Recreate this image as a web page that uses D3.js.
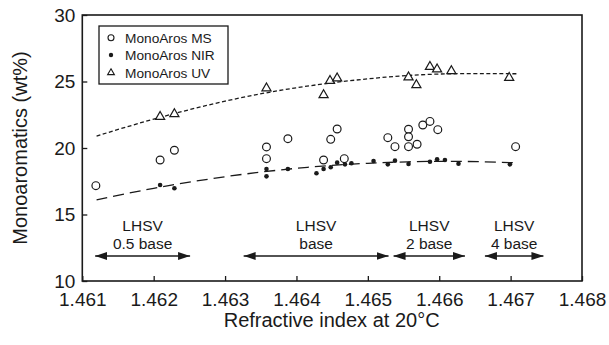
<!DOCTYPE html>
<html>
<head>
<meta charset="utf-8">
<script src="https://cdn.jsdelivr.net/npm/d3@7/dist/d3.min.js"></script>
<style>
  html, body { margin: 0; padding: 0; background: #fff; }
  svg { display: block; font-family: "Liberation Sans", Arial, Helvetica, sans-serif; }
</style>
</head>
<body>
<svg id="chart" width="609" height="345"></svg>
<script>
// Monoaromatics measured three ways against refractive index
const msPoints = [
  [1.46119, 17.17], [1.46209, 19.10], [1.46229, 19.83], [1.46358, 20.08], [1.46358, 19.20],
  [1.46388, 20.70], [1.46438, 19.10], [1.46448, 20.65], [1.46457, 21.43], [1.46467, 19.20],
  [1.46528, 20.78], [1.46538, 20.10], [1.46557, 21.41], [1.46557, 20.85], [1.46557, 20.10],
  [1.46569, 20.28], [1.46577, 21.73], [1.46587, 22.00], [1.46598, 21.38], [1.46707, 20.10]
];
const nirPoints = [
  [1.46209, 17.22], [1.46229, 16.97], [1.46358, 18.42], [1.46358, 17.87], [1.46388, 18.42],
  [1.46428, 18.10], [1.46438, 18.42], [1.46448, 18.55], [1.46457, 18.90], [1.46468, 18.77],
  [1.46477, 18.85], [1.46508, 19.02], [1.46528, 18.77], [1.46538, 19.05], [1.46557, 18.80],
  [1.46587, 18.97], [1.46597, 19.15], [1.46608, 19.10], [1.46627, 18.82], [1.46699, 18.77]
];
const uvPoints = [
  [1.46209, 22.35], [1.46229, 22.56], [1.46358, 24.49], [1.46438, 23.98], [1.46447, 25.06],
  [1.46457, 25.24], [1.46557, 25.32], [1.46568, 24.74], [1.46587, 26.11], [1.46597, 25.92],
  [1.46617, 25.79], [1.46698, 25.28]
];
// Trend curves, sampled along their length
const uvTrend = [
  [1.4612, 20.90], [1.4620, 22.17], [1.4630, 23.52], [1.4640, 24.53],
  [1.4650, 25.20], [1.4660, 25.56], [1.4671, 25.58]
];
const nirTrend = [
  [1.4612, 16.10], [1.4620, 16.97], [1.4630, 17.84], [1.4640, 18.47],
  [1.4650, 18.85], [1.4661, 19.00], [1.4671, 18.88]
];
// LHSV ranges shown as double-headed arrows
const lhsvLabels = [["LHSV", "0.5 base"], ["LHSV", "base"], ["LHSV", "2 base"], ["LHSV", "4 base"]];
const lhsvRanges = [[1.46118, 1.46251], [1.46326, 1.46529], [1.46536, 1.46636], [1.46664, 1.46746]];

const xTicks = [1.461, 1.462, 1.463, 1.464, 1.465, 1.466, 1.467, 1.468];
const yTicks = [10, 15, 20, 25, 30];
const legendLabels = ["MonoAros MS", "MonoAros NIR", "MonoAros UV"];

const svg = d3.select("#chart");
const ink = "#1a1a1a";
const plotL = 82.3, plotR = 582, plotT = 15, plotB = 281;

const x = d3.scaleLinear().domain([1.461, 1.468]).range([plotL, plotR]);
const y = d3.scaleLinear().domain([10, 30]).range([plotB, plotT]);

// frame
svg.append("rect")
  .attr("x", plotL).attr("y", plotT)
  .attr("width", plotR - plotL).attr("height", plotB - plotT)
  .attr("fill", "none").attr("stroke", ink).attr("stroke-width", 1.6);

// axes with inward ticks
const xAxis = svg.append("g").attr("transform", `translate(0,${plotB})`)
  .call(d3.axisBottom(x).tickValues(xTicks).tickSize(-5).tickSizeOuter(0).tickPadding(12)
    .tickFormat(d3.format(".3f")));
const yAxis = svg.append("g").attr("transform", `translate(${plotL},0)`)
  .call(d3.axisLeft(y).tickValues(yTicks).tickSize(-5).tickSizeOuter(0).tickPadding(7));
[xAxis, yAxis].forEach(g => {
  g.select(".domain").remove();
  g.selectAll(".tick line").attr("stroke", ink).attr("stroke-width", 1.3);
  g.selectAll(".tick text").attr("fill", ink).attr("font-size", 19)
    .attr("font-family", "Liberation Sans, Arial, sans-serif");
});
xAxis.selectAll(".tick text").attr("dy", "0.71em").attr("y", 12);

// axis titles
svg.append("text").attr("x", (plotL + plotR) / 2 - 0.5).attr("y", 327)
  .attr("text-anchor", "middle").attr("font-size", 20).attr("fill", ink)
  .text("Refractive index at 20°C");
svg.append("text").attr("transform", `translate(27,${(plotT + plotB) / 2}) rotate(-90)`)
  .attr("text-anchor", "middle").attr("font-size", 20).attr("fill", ink)
  .text("Monoaromatics (wt%)");

// trend curves
const line = d3.line().x(d => x(d[0])).y(d => y(d[1])).curve(d3.curveNatural);
svg.append("path").datum(uvTrend).attr("d", line)
  .attr("fill", "none").attr("stroke", ink).attr("stroke-width", 1.3)
  .attr("stroke-dasharray", "4,2.5");
svg.append("path").datum(nirTrend).attr("d", line)
  .attr("fill", "none").attr("stroke", ink).attr("stroke-width", 1.3)
  .attr("stroke-dasharray", "11,6");

// markers
const tri = d3.symbol().type(d3.symbolTriangle).size(36);
svg.append("g").selectAll("circle").data(msPoints).join("circle")
  .attr("cx", d => x(d[0])).attr("cy", d => y(d[1])).attr("r", 3.9)
  .attr("fill", "#fff").attr("stroke", ink).attr("stroke-width", 1.2);
svg.append("g").selectAll("circle").data(nirPoints).join("circle")
  .attr("cx", d => x(d[0])).attr("cy", d => y(d[1])).attr("r", 2.3)
  .attr("fill", ink);
svg.append("g").selectAll("path").data(uvPoints).join("path")
  .attr("d", tri)
  .attr("transform", d => `translate(${x(d[0])},${y(d[1])})`)
  .attr("fill", "#fff").attr("stroke", ink).attr("stroke-width", 1.2);

// LHSV arrows and labels
const defs = svg.append("defs");
defs.append("marker").attr("id", "head").attr("viewBox", "0 0 12 8")
  .attr("refX", 12).attr("refY", 4).attr("markerWidth", 12).attr("markerHeight", 8)
  .attr("markerUnits", "userSpaceOnUse").attr("orient", "auto-start-reverse")
  .append("path").attr("d", "M0,0 L12,4 L0,8 Z").attr("fill", ink);
const arrowY = 256;
lhsvRanges.forEach((r, i) => {
  svg.append("line")
    .attr("x1", x(r[0])).attr("x2", x(r[1]))
    .attr("y1", arrowY).attr("y2", arrowY)
    .attr("stroke", ink).attr("stroke-width", 1.4)
    .attr("marker-start", "url(#head)").attr("marker-end", "url(#head)");
  const cx = (x(r[0]) + x(r[1])) / 2;
  const t = svg.append("text").attr("text-anchor", "middle").attr("font-size", 15.5).attr("fill", ink);
  t.append("tspan").attr("x", cx).attr("y", 231).text(lhsvLabels[i][0]);
  t.append("tspan").attr("x", cx).attr("y", 249).text(lhsvLabels[i][1]);
});

// legend
const lg = svg.append("g");
lg.append("rect").attr("x", 99).attr("y", 26).attr("width", 129).attr("height", 58)
  .attr("fill", "#fff").attr("stroke", ink).attr("stroke-width", 1.3);
const rows = [37.7, 55, 72.7];
lg.append("circle").attr("cx", 111).attr("cy", rows[0]).attr("r", 3)
  .attr("fill", "#fff").attr("stroke", ink).attr("stroke-width", 1.1);
lg.append("circle").attr("cx", 111).attr("cy", rows[1]).attr("r", 2.2).attr("fill", ink);
lg.append("path").attr("d", d3.symbol().type(d3.symbolTriangle).size(20))
  .attr("transform", `translate(111,${rows[2]})`)
  .attr("fill", "#fff").attr("stroke", ink).attr("stroke-width", 1.1);
legendLabels.forEach((s, i) => {
  lg.append("text").attr("x", 125).attr("y", rows[i]).attr("dy", "0.36em")
    .attr("font-size", 13.7).attr("fill", ink).text(s);
});
</script>
</body>
</html>
